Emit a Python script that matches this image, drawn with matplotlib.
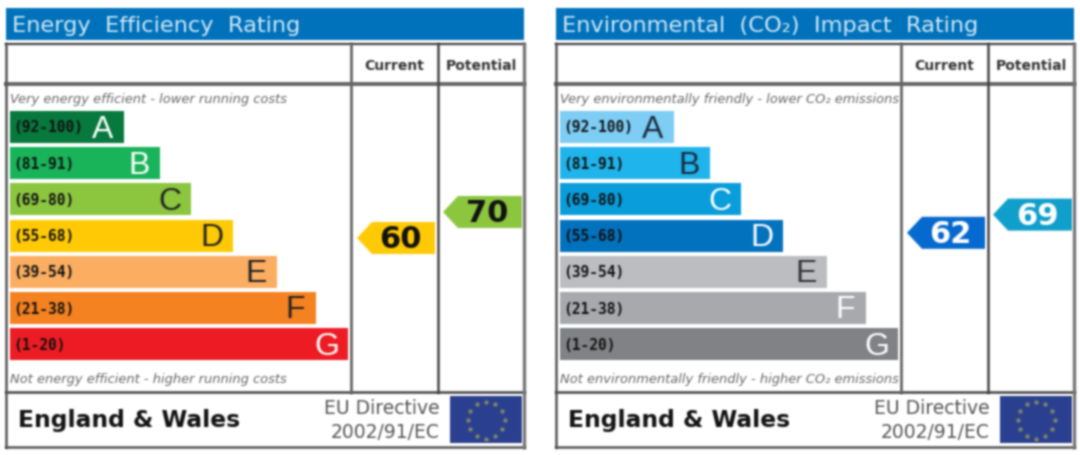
#!/usr/bin/env python3

import numpy as np
import matplotlib
matplotlib.use('Agg')
import matplotlib.pyplot as plt
from matplotlib.patches import Rectangle, Polygon

# Data
band_letters = ['A', 'B', 'C', 'D', 'E', 'F', 'G']
band_ranges = ['(92-100)', '(81-91)', '(69-80)', '(55-68)', '(39-54)', '(21-38)', '(1-20)']
band_lengths = [114, 150, 181, 223, 267, 306, 338]

energy_title = 'Energy  Efficiency  Rating'
energy_top = 'Very energy efficient - lower running costs'
energy_bottom = 'Not energy efficient - higher running costs'
energy_colors = ['#07793d', '#19b35a', '#8cc63f', '#ffcb05', '#fbae62', '#f58220', '#ed1c24']
energy_letter_colors = ['white', 'white', '#222222', '#222222', '#222222', '#222222', 'white']
energy_current = 60
energy_potential = 70
energy_current_color = '#ffcb05'
energy_potential_color = '#8cc63f'
energy_score_color = '#111111'

env_title = 'Environmental  (CO\u2082)  Impact  Rating'
env_top = 'Very environmentally friendly - lower CO\u2082 emissions'
env_bottom = 'Not environmentally friendly - higher CO\u2082 emissions'
env_colors = ['#7dcdf5', '#20b4ec', '#0a9ddb', '#0272bf', '#bbbdc0', '#a7a9ac', '#808285']
env_letter_colors = ['#1c2a3a', '#1c2a3a', 'white', 'white', '#333333', 'white', 'white']
env_current = 62
env_potential = 69
env_current_color = '#0569cf'
env_potential_color = '#0f9fcb'
env_score_color = 'white'


def blur(img, dpi):
    # the reference is a blurry upscaled image, so soften everything a bit
    sigma = 0.95
    radius = 4
    kernel = np.exp(-0.5 * (np.arange(-radius, radius + 1) / sigma) ** 2)
    kernel /= kernel.sum()
    out = np.pad(img, ((radius, radius), (radius, radius), (0, 0)))
    alpha = out[..., 3:4]
    out = np.concatenate([out[..., :3] * alpha, alpha], axis=2)
    for axis in (0, 1):
        out = np.apply_along_axis(lambda m: np.convolve(m, kernel, mode='same'), axis, out)
    alpha = np.clip(out[..., 3:4], 1e-4, 1)
    out[..., :3] = np.clip(out[..., :3] / alpha, 0, 1)
    return out, -radius, -radius


def score_y(score):
    # pointers sit on a continuous scale
    return 238 + (60 - score) * 2.6


def pointer(ax, left, right, score, color, text_color):
    y = score_y(score)
    ax.add_patch(Polygon([(left, y), (left + 15, y - 16), (right, y - 16),
                          (right, y + 16), (left + 15, y + 16)], closed=True,
                         facecolor=color, edgecolor='none'))
    ax.text((left + 15 + right) / 2 - 3, y + 1.5, str(score), color=text_color, fontsize=22,
            fontweight='bold', ha='center', va='center')


def panel(ax, x0, title, top, bottom, colors, letter_colors,
          current, potential, current_color, potential_color, score_color):
    # title strip
    ax.add_patch(Rectangle((x0 + 6, 8), 518, 32, facecolor='#0072bc', edgecolor='none'))
    ax.text(x0 + 12, 25.5, title, color='#d5e9f7', fontsize=16.2, ha='left', va='center')

    # bands
    y = [127 + i * 36.2 for i in range(len(band_lengths))]
    ax.barh(y, band_lengths, height=32, left=x0 + 10, color=colors)
    for i in range(len(band_lengths)):
        ax.text(x0 + 13, y[i] + 1, band_ranges[i], color='#111111', fontsize=10.5,
                fontweight='bold', family='DejaVu Sans Mono', ha='left', va='center')
        ax.text(x0 + 10 + band_lengths[i] - 21, y[i] + 2.5, band_letters[i], color=letter_colors[i],
                fontsize=23, family='Liberation Sans', ha='center', va='center')

    ax.text(x0 + 10, 99, top, color='#666666', fontsize=9.4, style='italic', ha='left', va='center')
    ax.text(x0 + 10, 380, bottom, color='#666666', fontsize=9.4, style='italic', ha='left', va='center')

    # column headers
    ax.text(x0 + 394.5, 66, 'Current', color='#333333', fontsize=10, fontweight='bold', ha='center', va='center')
    ax.text(x0 + 481.5, 66, 'Potential', color='#333333', fontsize=10, fontweight='bold', ha='center', va='center')

    # pointers
    pointer(ax, x0 + 357, x0 + 435, current, current_color, score_color)
    pointer(ax, x0 + 443, x0 + 522, potential, potential_color, score_color)

    # frame
    ax.plot([x0 + 6, x0 + 524], [44, 44], color='#444444', lw=1.6)
    ax.plot([x0 + 6, x0 + 524], [84, 84], color='#666666', lw=2.8)
    ax.plot([x0 + 6, x0 + 524], [392, 392], color='#444444', lw=1.8)
    ax.plot([x0 + 6, x0 + 524], [447, 447], color='#555555', lw=1.8)
    ax.plot([x0 + 6, x0 + 6], [44, 447], color='#555555', lw=1.8)
    ax.plot([x0 + 524, x0 + 524], [44, 447], color='#777777', lw=2.4)
    ax.plot([x0 + 351, x0 + 351], [44, 392], color='#666666', lw=2)
    ax.plot([x0 + 438, x0 + 438], [44, 392], color='#444444', lw=1.8)

    # footer
    ax.text(x0 + 18, 421, 'England & Wales', color='#111111', fontsize=16.8, fontweight='bold', ha='left', va='center')
    ax.text(x0 + 440, 409, 'EU Directive', color='#555555', fontsize=13.5, ha='right', va='center')
    ax.text(x0 + 440, 432, '2002/91/EC', color='#555555', fontsize=13.5, ha='right', va='center')

    # EU flag
    ax.add_patch(Rectangle((x0 + 450, 396), 72, 47, facecolor='#2a3f8f', edgecolor='none'))
    angles = np.arange(12) * np.pi / 6
    ax.scatter(x0 + 486 + 18.5 * np.cos(angles), 420 + 18.5 * np.sin(angles), s=7, marker='*',
               color='#d8cf45', linewidths=0.4)


fig = plt.figure(figsize=(10.8, 4.55), dpi=100)
ax = fig.add_axes([0, 0, 1, 1])
ax.set_xlim(0, 1080)
ax.set_ylim(455, 0)
ax.axis('off')

panel(ax, 0, energy_title, energy_top, energy_bottom, energy_colors, energy_letter_colors,
      energy_current, energy_potential, energy_current_color, energy_potential_color, energy_score_color)
panel(ax, 550, env_title, env_top, env_bottom, env_colors, env_letter_colors,
      env_current, env_potential, env_current_color, env_potential_color, env_score_color)

for artist in ax.get_children():
    if artist not in (ax.patch, ax.xaxis, ax.yaxis) and artist not in ax.spines.values():
        artist.set_agg_filter(blur)

fig.savefig('out.png', dpi=100)
